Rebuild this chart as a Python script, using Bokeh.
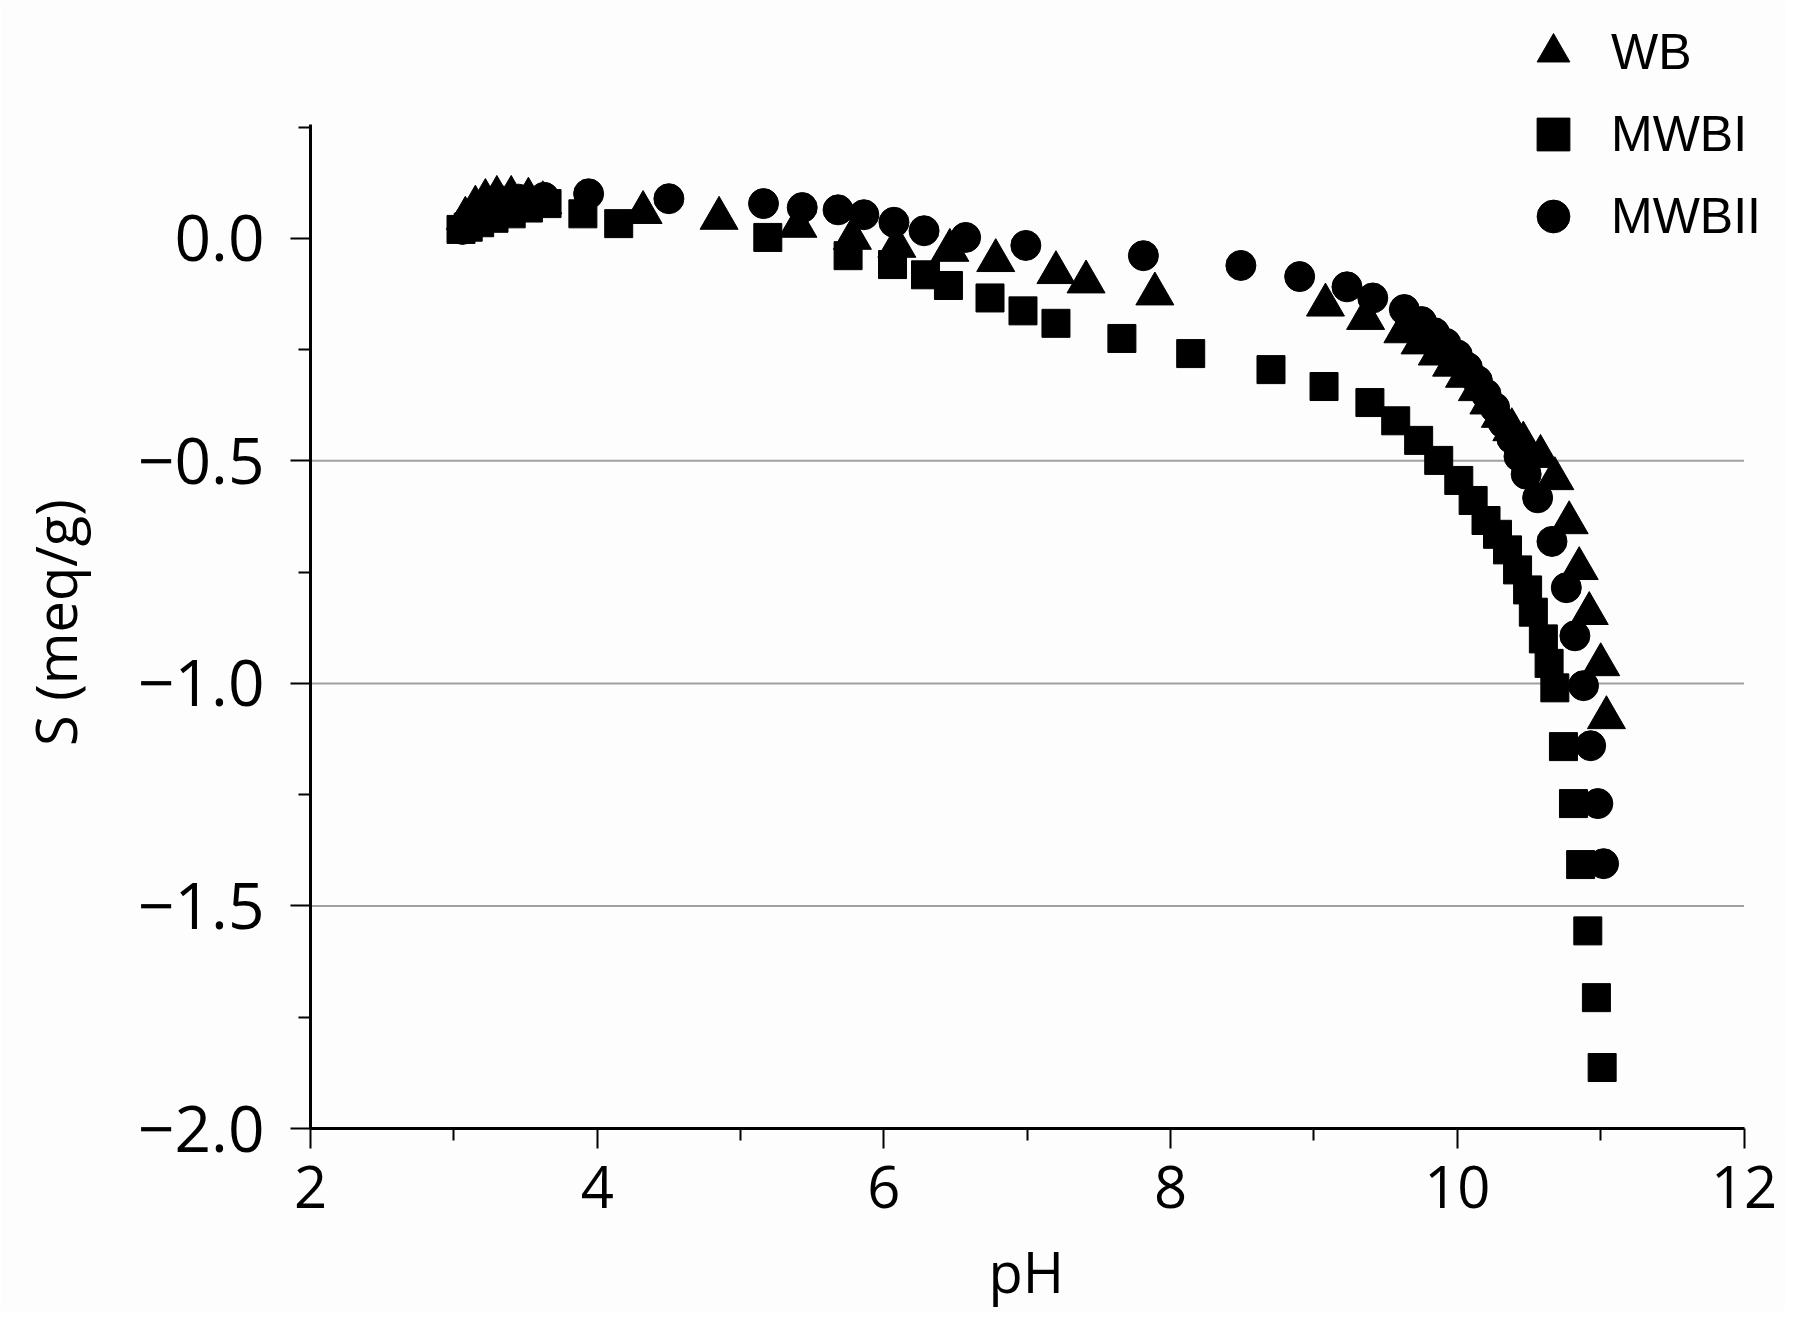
from bokeh.plotting import figure
from bokeh.models import (Range1d, FixedTicker, CustomJSTickFormatter, Legend, LegendItem)
from bokeh.embed import file_html
from bokeh.resources import INLINE

# ---- data ----
wb_ph = [3.08, 3.15, 3.22, 3.30, 3.40, 3.52, 3.62, 4.32, 4.85, 5.40, 5.78, 6.09, 6.46, 6.78,
         7.20, 7.41, 7.89, 9.08, 9.36, 9.62, 9.74, 9.86, 9.96, 10.05, 10.14, 10.22, 10.30,
         10.38, 10.46, 10.58, 10.68, 10.78, 10.85, 10.92, 11.00, 11.04]
wb_s = [0.045, 0.070, 0.085, 0.092, 0.092, 0.088, 0.080, 0.058, 0.045, 0.027, 0.000, -0.018,
        -0.027, -0.050, -0.077, -0.098, -0.125, -0.150, -0.180, -0.210, -0.235, -0.260,
        -0.285, -0.310, -0.340, -0.370, -0.400, -0.430, -0.460, -0.490, -0.540, -0.639,
        -0.742, -0.843, -0.958, -1.077]

mwbi_ph = [3.05, 3.10, 3.18, 3.28, 3.40, 3.52, 3.65, 3.90, 4.15, 5.19, 5.75, 6.06, 6.29, 6.45,
           6.74, 6.97, 7.20, 7.66, 8.14, 8.70, 9.07, 9.39, 9.57, 9.73, 9.87, 10.01, 10.11,
           10.20, 10.28, 10.35, 10.42, 10.49, 10.53, 10.60, 10.64, 10.68, 10.74, 10.81, 10.86,
           10.91, 10.97, 11.01]
mwbi_s = [0.020, 0.025, 0.035, 0.045, 0.055, 0.068, 0.078, 0.055, 0.033, 0.002, -0.039, -0.059,
          -0.082, -0.106, -0.134, -0.163, -0.191, -0.225, -0.259, -0.295, -0.333, -0.369,
          -0.410, -0.454, -0.499, -0.544, -0.589, -0.634, -0.665, -0.700, -0.745, -0.790,
          -0.840, -0.900, -0.955, -1.010, -1.142, -1.270, -1.407, -1.556, -1.706, -1.863]

mwbii_ph = [3.06, 3.10, 3.15, 3.22, 3.32, 3.45, 3.63, 3.94, 4.50, 5.16, 5.43, 5.68, 5.86, 6.07,
            6.28, 6.57, 6.99, 7.81, 8.49, 8.90, 9.23, 9.41, 9.63, 9.75, 9.84, 9.92, 10.00,
            10.07, 10.14, 10.20, 10.26, 10.32, 10.38, 10.43, 10.48, 10.56, 10.66, 10.76,
            10.82, 10.88, 10.93, 10.98, 11.02]
mwbii_s = [0.020, 0.040, 0.060, 0.075, 0.085, 0.088, 0.092, 0.100, 0.089, 0.078, 0.069, 0.064,
           0.053, 0.036, 0.017, 0.002, -0.016, -0.039, -0.061, -0.086, -0.109, -0.134, -0.160,
           -0.187, -0.212, -0.236, -0.262, -0.290, -0.320, -0.350, -0.380, -0.415, -0.450,
           -0.490, -0.530, -0.583, -0.681, -0.785, -0.893, -1.005, -1.140, -1.270, -1.405]

series_names = ["WB", "MWBI", "MWBII"]
x_ticks = [2, 4, 6, 8, 10, 12]
x_minor = [3, 5, 7, 9, 11]
y_ticks = [0.0, -0.5, -1.0, -1.5, -2.0]
y_minor = [0.25, -0.25, -0.75, -1.25, -1.75]
y_top = 0.2557          # top end of the y axis line
grid_y = [-0.5, -1.0, -1.5]
x_title = "pH"
y_title = "S (meq/g)"

BG = "#fdfdfd"
# the frame is extended up and to the right so that the legend (which sits above the
# axes in the reference) is not clipped; axis lines are limited with `bounds`.
p = figure(output_backend="svg", toolbar_location=None,
           frame_width=1475, frame_height=1128,
           min_border_left=310, min_border_right=0, min_border_top=0, min_border_bottom=177,
           x_range=Range1d(2, 12.289), y_range=Range1d(-2.0, 0.5343),
           background_fill_color=BG, border_fill_color=BG, outline_line_color=None)

p.xgrid.visible = False
p.ygrid.visible = False
p.segment(x0=x_ticks[0], x1=x_ticks[-1], y0=grid_y, y1=grid_y,
          line_color="#a0a0a0", line_width=2)

r_wb = p.scatter(wb_ph, wb_s, marker="triangle", size=38, fill_color="black", line_color="black")
r_m1 = p.scatter(mwbi_ph, mwbi_s, marker="square", size=28, fill_color="black", line_color="black")
r_m2 = p.scatter(mwbii_ph, mwbii_s, marker="circle", size=30, fill_color="black", line_color="black")

# axes
p.xaxis.ticker = FixedTicker(ticks=x_ticks, minor_ticks=x_minor)
p.yaxis.ticker = FixedTicker(ticks=y_ticks, minor_ticks=y_minor)
p.xaxis.bounds = (x_ticks[0], x_ticks[-1])
p.yaxis.bounds = (y_ticks[-1], y_top)
p.yaxis.formatter = CustomJSTickFormatter(code="return tick.toFixed(1).replace('-', '\\u2212');")

for ax in (p.xaxis[0], p.yaxis[0]):
    ax.axis_line_color = "black"
    ax.axis_line_width = 3
    ax.major_tick_line_color = "black"
    ax.major_tick_line_width = 2
    ax.minor_tick_line_color = "black"
    ax.minor_tick_line_width = 2
    ax.major_tick_in = 0
    ax.major_tick_out = 20
    ax.minor_tick_in = 0
    ax.minor_tick_out = 12
    ax.major_label_text_font = "Open Sans"
    ax.major_label_text_font_size = "58px"
    ax.major_label_text_color = "black"
    ax.axis_label_text_font = "Open Sans"
    ax.axis_label_text_font_size = "56px"
    ax.axis_label_text_font_style = "normal"
    ax.axis_label_text_color = "black"

p.yaxis.major_label_text_font_size = "64px"
p.xaxis.major_label_standoff = 17
p.yaxis.major_label_standoff = 26
# the frame is larger than the drawn axes; trailing no-break spaces re-centre the
# axis titles on the drawn axis lines
p.xaxis.axis_label = x_title + "\u00a0" * 3
p.yaxis.axis_label = y_title + "\u00a0" * 8
p.xaxis.axis_label_standoff = 22
p.yaxis.axis_label_standoff = 42

legend = Legend(items=[LegendItem(label=series_names[0], renderers=[r_wb]),
                       LegendItem(label=series_names[1], renderers=[r_m1]),
                       LegendItem(label=series_names[2], renderers=[r_m2])],
                location=(1202, 871), orientation="vertical",
                glyph_width=82, glyph_height=82, spacing=0, padding=0, margin=0,
                label_standoff=17, label_text_font="Liberation Sans",
                label_text_font_size="50px", label_text_color="black",
                border_line_color=None, background_fill_alpha=0)
p.add_layout(legend, "center")

open("out.html", "w").write(file_html(p, INLINE))
